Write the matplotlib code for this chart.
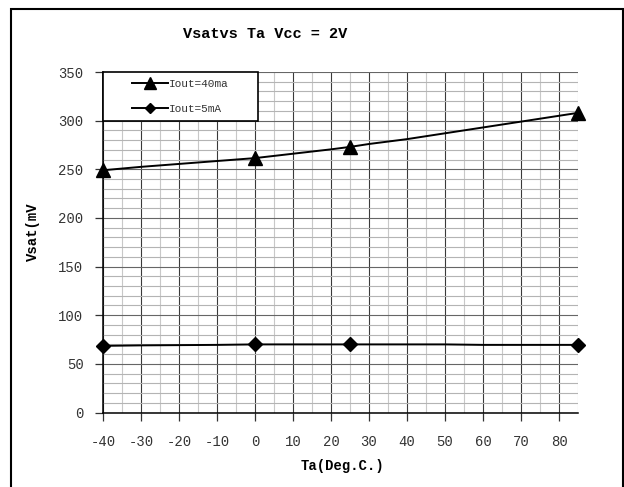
import matplotlib
matplotlib.use("Agg")
import matplotlib.pyplot as plt
from matplotlib.ticker import MultipleLocator
from matplotlib.patches import Rectangle
from matplotlib.lines import Line2D

plt.rcParams["axes.unicode_minus"] = False

# ---- data ----
temp_40ma = [-40, -30, -20, -10, 0, 10, 20, 25, 30, 40, 50, 60, 70, 80, 85]
vsat_40ma = [249, 252.5, 255.5, 258.5, 261.5, 266, 270.5, 273, 276, 281, 287, 293, 299, 305, 308]
mark_t_40ma = [-40, 0, 25, 85]
mark_v_40ma = [249, 261.5, 273, 308]

temp_5ma = [-40, -30, -10, 0, 25, 50, 60, 85]
vsat_5ma = [68.5, 69, 69.5, 70, 70, 70, 69.5, 69.5]
mark_t_5ma = [-40, 0, 25, 85]
mark_v_5ma = [68.5, 70, 70, 69.5]

x_ticks = list(range(-40, 90, 10))
y_ticks = list(range(0, 400, 50))
labels = ["Iout=40ma", "Iout=5mA"]
title = "Vsatvs Ta Vcc = 2V"
xlabel = "Ta(Deg.C.)"
ylabel = "Vsat(mV"

mono = "Liberation Mono"

fig = plt.figure(figsize=(6.24, 4.87), dpi=100)
W, H = 624, 487
ax = fig.add_axes([103 / W, 1 - 412.5 / H, (578 - 103) / W, (412.5 - 72) / H])

ax.set_xlim(-40, 85)
ax.set_ylim(0, 350)
ax.set_xticks(x_ticks)
ax.set_yticks(y_ticks)
ax.xaxis.set_minor_locator(MultipleLocator(5))
ax.yaxis.set_minor_locator(MultipleLocator(10))

ax.grid(which="minor", axis="x", color="#c8c8c8", lw=0.8)
ax.grid(which="minor", axis="y", color="#b4b4b4", lw=0.8)
ax.grid(which="major", axis="x", color="#3a3a3a", lw=0.8)
ax.grid(which="major", axis="y", color="#666666", lw=0.8)
ax.set_axisbelow(True)

for s in ["top", "right"]:
    ax.spines[s].set_visible(False)
for s in ["left", "bottom"]:
    ax.spines[s].set_color("black")
    ax.spines[s].set_linewidth(1.1)

ax.tick_params(which="major", direction="out", length=6, width=0.9, color="#333333",
               labelsize=10, labelcolor="#333333")
ax.tick_params(which="minor", length=0)
ax.tick_params(axis="x", pad=10)
ax.tick_params(axis="y", pad=8)
for lab in ax.get_xticklabels() + ax.get_yticklabels():
    lab.set_fontfamily(mono)

ax.plot(temp_40ma, vsat_40ma, color="black", lw=1.4, zorder=3)
ax.plot(mark_t_40ma, mark_v_40ma, ls="none", marker="^", ms=10, color="black", zorder=4, clip_on=False)
ax.plot(temp_5ma, vsat_5ma, color="black", lw=1.4, zorder=3)
ax.plot(mark_t_5ma, mark_v_5ma, ls="none", marker="D", ms=7, color="black", zorder=4, clip_on=False)

# legend box
bx0, bx1 = 0.0, (258 - 103) / (578 - 103)
by1 = 1.0
by0 = 1 - (121 - 72) / (412.5 - 72)
ax.add_patch(Rectangle((bx0, by0), bx1 - bx0, by1 - by0, transform=ax.transAxes,
                       facecolor="white", edgecolor="black", lw=1.2, zorder=5, clip_on=False))
handles = [Line2D([], [], color="black", lw=1.4, marker="^", ms=8),
           Line2D([], [], color="black", lw=1.4, marker="D", ms=5)]
leg = ax.legend(handles, labels, loc="center", bbox_to_anchor=((bx0 + bx1) / 2, (by0 + by1) / 2),
                bbox_transform=ax.transAxes, frameon=False, handlelength=3.2, handletextpad=0.1,
                labelspacing=1.3, prop={"family": mono, "size": 8})
leg.set_zorder(6)
for t in leg.get_texts():
    t.set_color("#333333")

fig.text(265 / W, 1 - 34 / H, title, ha="center", va="center", fontsize=11,
         fontweight="bold", family=mono)
fig.text(342 / W, 1 - 466 / H, xlabel, ha="center", va="center", fontsize=10,
         fontweight="bold", family=mono)
fig.text(33 / W, 1 - 232 / H, ylabel, ha="center", va="center", fontsize=10,
         fontweight="bold", family=mono, rotation=90)

# figure border
fig.patches.append(Rectangle((11 / W, -0.05), (623 - 11) / W, 1.05 - 9 / H,
                             transform=fig.transFigure, fill=False, edgecolor="black",
                             lw=1.5, figure=fig))

fig.savefig("out.png", dpi=100)
